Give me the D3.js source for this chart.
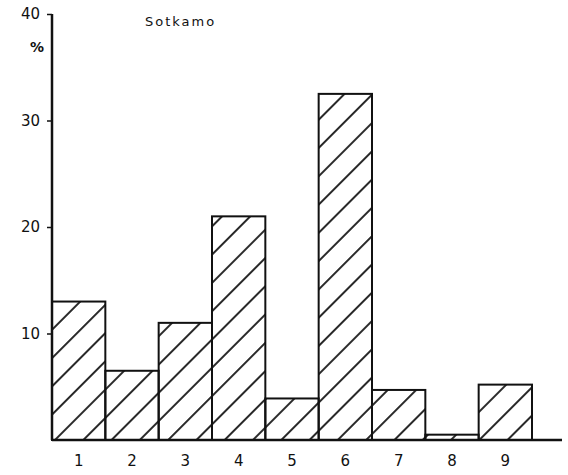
<!DOCTYPE html>
<html><head><meta charset="utf-8">
<script src="https://cdn.jsdelivr.net/npm/d3@7"></script>
<style>body{margin:0;background:#fff}svg{display:block}</style>
</head><body>
<script>
const categories = ["1","2","3","4","5","6","7","8","9"];
const values = [13, 6.5, 11, 21, 3.9, 32.5, 4.7, 0.5, 5.2];
const yTicks = [10, 20, 30, 40];
const title = "Sotkamo";
const unit = "%";

const W = 568, H = 475;
const svg = d3.select("body").append("svg").attr("width", W).attr("height", H);
const defs = svg.append("defs");
const pat = defs.append("pattern").attr("id","hatch").attr("patternUnits","userSpaceOnUse")
  .attr("width",20).attr("height",20).attr("patternTransform","rotate(45)");
pat.append("line").attr("x1",10).attr("y1",0).attr("x2",10).attr("y2",20)
  .attr("stroke","#111").attr("stroke-width",1.8);

const x = d3.scaleBand().domain(categories).range([52, 532]).padding(0);
const y = d3.scaleLinear().domain([0, 40]).range([440, 14]);

svg.append("g").selectAll("rect").data(values).join("rect")
  .attr("x", (d,i) => x(categories[i]))
  .attr("width", x.bandwidth())
  .attr("y", d => y(d))
  .attr("height", d => y(0) - y(d))
  .attr("fill", "url(#hatch)")
  .attr("stroke", "#111").attr("stroke-width", 2);

const ya = svg.append("g").attr("transform","translate(52,0)")
  .call(d3.axisLeft(y).tickValues(yTicks).tickSize(5).tickPadding(7));
ya.select(".domain").remove();
ya.selectAll("line").attr("stroke","#111").attr("stroke-width",1.5);
ya.selectAll("text").attr("font-family","DejaVu Sans").attr("font-size",15).attr("fill","#111");
svg.append("line").attr("x1",52).attr("x2",52).attr("y1",y(40)).attr("y2",y(0))
  .attr("stroke","#111").attr("stroke-width",2.5);

const xa = svg.append("g").attr("transform",`translate(0,${y(0)})`)
  .call(d3.axisBottom(x).tickSize(0).tickPadding(15));
xa.select(".domain").remove();
xa.selectAll("text").attr("font-family","DejaVu Sans").attr("font-size",15).attr("fill","#111");
svg.append("line").attr("x1",52).attr("x2",562).attr("y1",y(0)).attr("y2",y(0))
  .attr("stroke","#111").attr("stroke-width",2.5);

svg.append("text").attr("x",30).attr("y",52).attr("font-family","DejaVu Sans")
  .attr("font-size",14).attr("font-weight","bold").attr("fill","#111").text(unit);
svg.append("text").attr("x",145).attr("y",26).attr("font-family","DejaVu Sans")
  .attr("font-size",13).attr("letter-spacing",2).attr("fill","#111").text(title);
</script>
</body></html>
